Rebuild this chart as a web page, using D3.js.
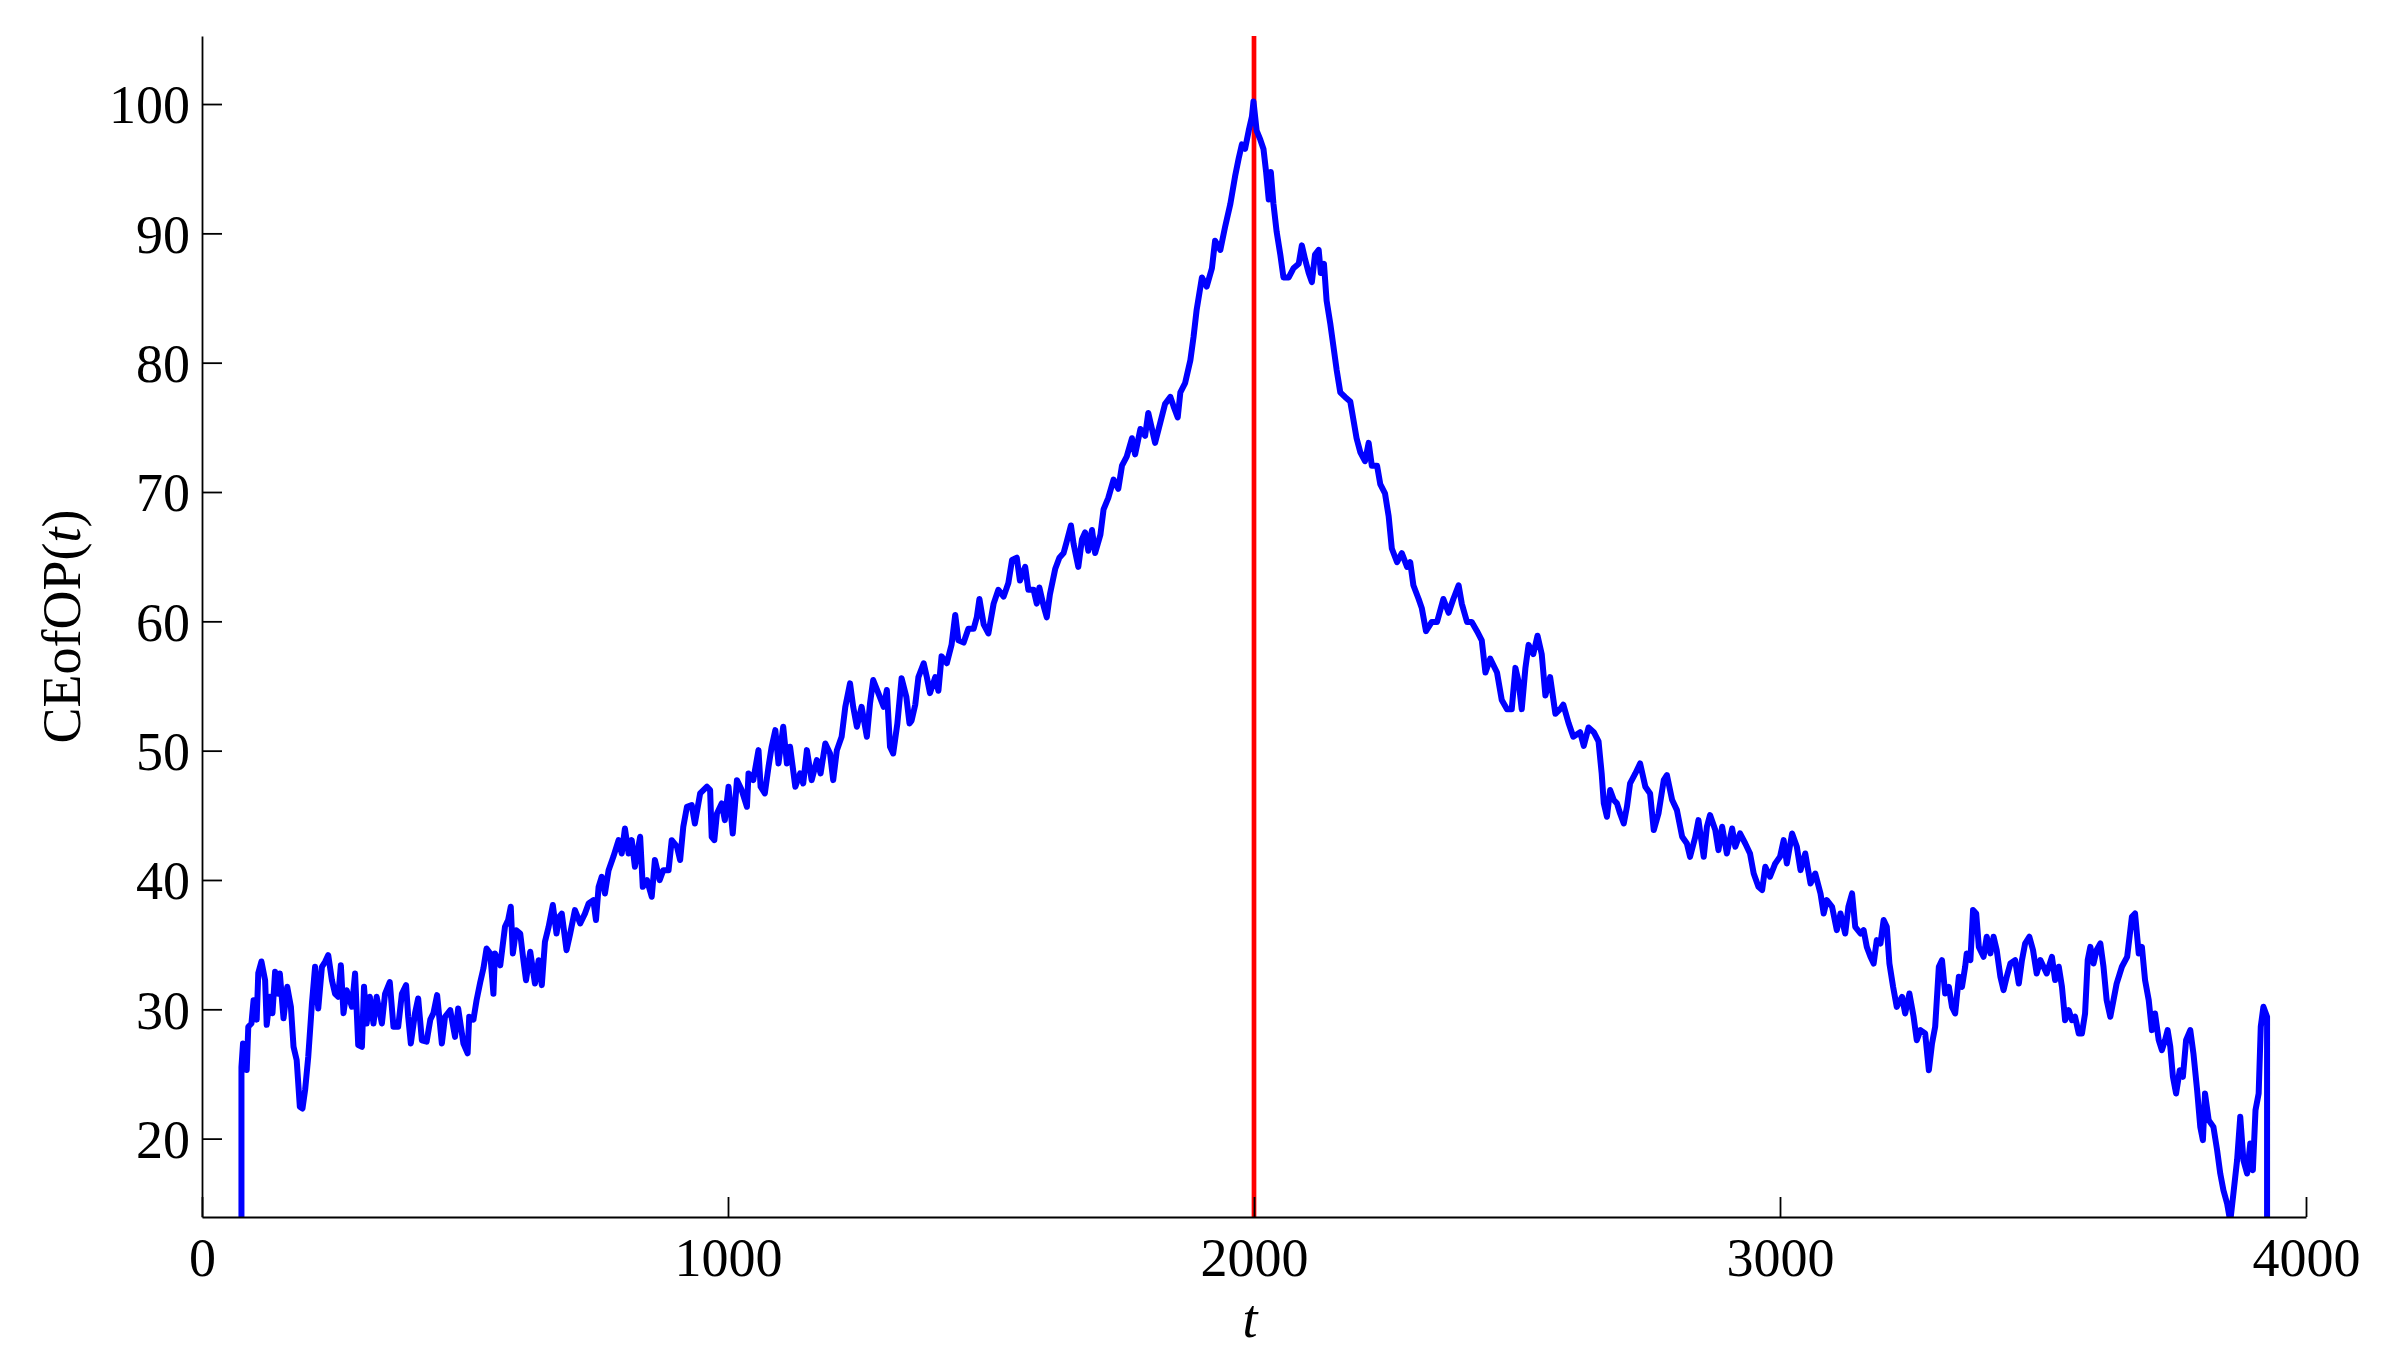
<!DOCTYPE html>
<html>
<head>
<meta charset="utf-8">
<script src="https://cdnjs.cloudflare.com/ajax/libs/d3/7.8.5/d3.min.js"></script>
<style>
	body { margin: 0; background: #fff; }
	svg text { font-family: "Liberation Serif", "Times New Roman", serif; }
</style>
</head>
<body>
<svg id="chart"></svg>
<script>
// ****** Data
var xTicks = [0, 1000, 2000, 3000, 4000];
var yTicks = [20, 30, 40, 50, 60, 70, 80, 90, 100];
var xDomain = [0, 4000];
var yDomain = [13.94, 105.26];
var changePoint = 2000;	// red marker

// CEofOP(t) as [t, value]
var ceofopSeries = [
	[75,0],[75,25.55],[78,27.36],[85,25.3],[88,28.65],[94,28.9],[98,30.7],[104,29.2],[107,32.8],[113,33.7],[120,32.25],[123,28.8],[129,30.97],[134,29.7],[139,32.9],[145,31.2],[148,32.77],[155,29.3],[162,31.74],[169,30.2],[174,27.1],[180,26.07],[186,22.46],[191,22.33],[196,23.75],[202,26.33],[209,30.45],[215,33.29],[221,30.06],[228,33.29],[234,33.67],[240,34.19],[247,32.25],[253,31.2],[259,30.97],[264,33.4],[269,29.7],[275,31.48],[285,30.2],[291,32.77],[297,27.23],[304,27.1],[308,31.74],[313,28.9],[319,30.97],[326,28.9],[332,30.97],[342,28.9],[348,31.2],[357,32.1],[364,28.65],[373,28.65],[380,31.2],[388,31.87],[392,29.42],[397,27.36],[405,29.7],[411,30.84],[418,27.6],[427,27.5],[434,29.2],[440,29.7],[447,31.1],[456,27.36],[462,29.42],[472,29.93],[481,27.87],[487,30.06],[497,27.36],[505,26.6],[508,29.42],[516,29.2],[522,30.7],[529,32.1],[535,33.16],[541,34.7],[548,34.32],[554,31.2],[557,34.32],[567,33.4],[576,36.38],[582,36.9],[587,37.93],[591,34.32],[597,36.12],[605,35.86],[611,33.8],[616,32.25],[624,34.45],[633,32.0],[640,33.8],[646,31.87],[652,35.22],[659,36.38],[667,38.06],[674,35.86],[679,37.15],
	[684,37.4],[693,34.57],[700,35.86],[709,37.67],[719,36.64],[728,37.4],[735,38.18],[744,38.44],[749,36.9],[754,39.47],[760,40.25],[766,38.96],[773,40.76],[782,41.79],[792,43.08],[798,42.05],[804,43.98],[811,42.05],[817,43.08],[823,41.02],[833,43.34],[838,39.47],[846,39.99],[855,38.7],[861,41.54],[870,39.99],[877,40.76],[887,40.76],[893,43.08],[903,42.57],[909,41.54],[915,44.11],[922,45.66],[931,45.79],[937,44.37],[947,46.69],[960,47.21],[966,46.95],[969,43.34],[974,43.08],[979,45.14],[988,45.92],[994,44.63],[1001,47.21],[1009,43.6],[1017,47.72],[1026,46.95],[1036,45.66],[1039,48.24],[1048,47.72],[1058,50.04],[1062,47.21],[1070,46.69],[1077,48.75],[1083,50.3],[1090,51.59],[1096,49.01],[1105,51.85],[1112,49.01],[1118,50.3],[1128,47.21],[1137,48.24],[1143,47.46],[1150,50.04],[1159,47.72],[1169,49.27],[1176,48.24],[1185,50.56],[1194,49.78],[1200,47.72],[1207,50.04],[1216,51.07],[1223,53.39],[1232,55.2],[1238,53.39],[1245,51.85],[1254,53.39],[1264,51.07],[1270,53.65],[1276,55.46],[1286,54.43],[1296,53.39],[1302,54.69],[1308,50.3],[1314,49.78],[1322,52.1],[1330,55.59],[1339,54.17],[1345,52.1],
	[1349,52.32],[1356,53.56],[1362,55.69],[1372,56.76],[1378,55.69],[1384,54.45],[1394,55.69],[1400,54.63],[1406,57.29],[1416,56.76],[1425,58.18],[1432,60.49],[1438,58.53],[1448,58.36],[1457,59.42],[1467,59.42],[1473,60.31],[1478,61.73],[1486,59.77],[1495,59.06],[1505,61.37],[1514,62.44],[1524,61.91],[1533,62.97],[1540,64.75],[1549,64.92],[1555,63.15],[1565,64.21],[1571,62.44],[1581,62.44],[1587,61.37],[1592,62.61],[1600,61.19],[1606,60.31],[1612,62.08],[1622,64.04],[1630,64.92],[1638,65.28],[1644,66.17],[1652,67.41],[1657,65.99],[1666,64.21],[1673,66.35],[1679,66.88],[1685,65.46],[1692,67.06],[1698,65.28],[1708,66.7],[1714,68.65],[1723,69.54],[1733,70.96],[1742,70.25],[1749,72.03],[1758,72.74],[1768,74.16],[1774,72.91],[1784,74.87],[1793,74.34],[1799,76.11],[1806,74.87],[1812,73.8],[1822,75.4],[1831,76.82],[1841,77.35],[1847,76.64],[1855,75.76],[1860,77.71],[1869,78.42],[1879,80.19],[1885,81.97],[1891,84.1],[1901,86.59],[1910,85.88],[1920,87.3],[1926,89.43],[1936,88.72],[1945,90.49],[1955,92.27],[1964,94.4],[1971,95.82],[1977,96.88],[1983,96.53],[1990,97.95],[1996,99.02],[1999,100.2],
	[2005,97.95],[2012,97.24],[2018,96.53],[2023,94.75],[2028,92.62],[2032,94.75],[2037,92.27],[2043,90.14],[2050,88.36],[2056,86.59],[2066,86.59],[2075,87.3],[2085,87.65],[2091,89.07],[2097,88.01],[2104,86.94],[2110,86.23],[2116,88.36],[2123,88.72],[2127,86.94],[2133,87.65],[2138,84.81],[2145,83.03],[2151,81.26],[2157,79.48],[2164,77.71],[2173,77.35],[2183,77.0],[2189,75.58],[2195,74.16],[2202,73.09],[2211,72.38],[2218,73.8],[2224,72.03],[2234,72.03],[2240,70.61],[2249,69.9],[2256,68.12],[2262,65.63],[2272,64.57],[2281,65.28],[2291,64.21],[2297,64.57],[2303,62.79],[2313,61.73],[2319,61.02],[2327,59.24],[2338,59.95],[2348,59.95],[2360,61.73],[2370,60.66],[2379,61.73],[2389,62.79],[2395,61.37],[2405,59.95],[2414,59.95],[2424,59.24],[2433,58.53],[2440,56.04],[2449,57.11],[2462,56.04],[2471,53.92],[2481,53.21],[2490,53.21],[2497,56.4],[2503,55.34],[2509,53.21],[2516,56.4],[2522,58.18],[2531,57.47],[2539,58.89],[2547,57.47],[2554,54.27],[2563,55.69],[2573,52.85],[2582,53.21],[2588,53.56],[2598,52.14],[2607,51.08],[2620,51.43],[2627,50.37],[2636,51.79],[2646,51.43],[2655,50.72],[2661,48.23],
	[2665,45.92],[2671,44.89],[2677,46.95],[2684,46.18],[2690,45.92],[2696,45.14],[2703,44.37],[2709,45.66],[2715,47.47],[2725,48.24],[2734,49.01],[2744,47.21],[2753,46.69],[2760,43.86],[2769,45.14],[2779,47.72],[2785,48.11],[2795,46.18],[2804,45.4],[2814,43.34],[2823,42.82],[2829,41.79],[2839,43.34],[2845,44.63],[2855,41.79],[2861,44.11],[2867,45.02],[2877,43.86],[2883,42.31],[2890,44.11],[2899,42.05],[2909,43.98],[2915,42.57],[2924,43.6],[2934,42.82],[2943,42.05],[2950,40.5],[2959,39.47],[2966,39.22],[2972,41.02],[2981,40.25],[2991,41.28],[3000,41.79],[3007,43.08],[3013,41.28],[3023,43.6],[3032,42.57],[3039,40.76],[3048,42.05],[3058,39.73],[3067,40.5],[3077,38.96],[3083,37.41],[3089,38.44],[3099,37.93],[3108,36.12],[3115,37.41],[3124,35.86],[3130,37.93],[3137,38.96],[3143,36.38],[3153,35.86],[3159,36.12],[3165,34.83],[3172,34.06],[3178,33.54],[3184,35.35],[3191,35.09],[3197,36.9],[3203,36.38],[3208,33.54],[3215,31.74],[3222,30.19],[3232,30.96],[3238,29.68],[3246,31.22],[3254,29.42],[3260,27.61],[3267,28.39],[3276,28.13],[3283,25.29],[3289,27.36],[3295,28.65],[3302,33.29],[3308,33.8],[3314,31.22],[3321,31.74],[3327,30.19],[3333,29.68],[3340,32.51],
	[3346,31.74],[3352,33.29],[3355,34.32],[3362,33.8],[3367,37.67],[3373,37.41],[3378,34.83],[3387,34.06],[3393,35.61],[3400,34.32],[3406,35.61],[3412,34.58],[3419,32.51],[3425,31.48],[3431,32.51],[3438,33.54],[3447,33.8],[3454,31.99],[3460,33.8],[3466,35.09],[3474,35.61],[3481,34.58],[3488,32.77],[3495,33.8],[3501,33.29],[3507,32.77],[3517,34.06],[3523,32.26],[3530,33.29],[3536,31.74],[3542,29.16],[3549,29.93],[3555,29.16],[3561,29.42],[3568,28.13],[3574,28.13],[3580,29.68],[3585,33.8],[3590,34.83],[3596,33.54],[3602,34.58],[3609,35.09],[3615,33.29],[3621,30.71],[3628,29.42],[3634,30.71],[3640,31.99],[3650,33.29],[3660,34.06],[3669,37.15],[3675,37.41],[3682,34.32],[3688,34.83],[3694,32.26],[3701,30.71],[3707,28.39],[3713,29.68],[3720,27.61],[3726,26.84],[3732,27.61],[3737,28.39],[3742,27.1],[3747,24.78],[3753,23.49],[3760,25.29],[3766,24.78],[3772,27.61],[3780,28.39],[3786,26.58],[3793,23.75],[3799,20.91],[3804,19.88],[3808,23.49],[3815,21.43],[3824,20.91],[3831,19.11],[3837,17.3],[3843,16.01],[3850,14.98],[3856,13.6],[3862,15.76],[3869,18.34],[3875,21.69],[3881,18.34],[3888,17.3],[3894,19.62],[3899,17.56],[3904,22.2],[3910,23.49],[3914,28.65],[3919,30.19],[3926,29.42],[3926,0]
];

// ****** Layout
var width = 2381, height = 1359;
var margin = {top: 36, right: 75, bottom: 142, left: 202};
var plotW = width - margin.left - margin.right;
var plotH = height - margin.top - margin.bottom;
var fontSize = 54;

var svg = d3.select('#chart')
	.attr('width', width)
	.attr('height', height);

var g = svg.append('g')
	.attr('transform', 'translate(' + margin.left + ',' + margin.top + ')');

var x = d3.scaleLinear().domain(xDomain).range([0, plotW]);
var y = d3.scaleLinear().domain(yDomain).range([plotH, 0]);

g.append('clipPath').attr('id', 'plot-clip')
	.append('rect').attr('x', 0).attr('y', 0).attr('width', plotW).attr('height', plotH);

// ****** Change point marker (under the series)
g.append('line')
	.attr('x1', x(changePoint)).attr('x2', x(changePoint))
	.attr('y1', y(yDomain[1])).attr('y2', y(yDomain[0]))
	.style('stroke', '#ff0000')
	.style('stroke-width', 4.7);

// ****** Series
var line = d3.line()
	.x(function(d) { return x(d[0]); })
	.y(function(d) { return y(d[1]); });

g.append('path')
	.datum(ceofopSeries)
	.attr('clip-path', 'url(#plot-clip)')
	.attr('d', line)
	.style('fill', 'none')
	.style('stroke', '#0000ff')
	.style('stroke-width', 6)
	.style('stroke-linejoin', 'round');

// ****** Axes (ticks point inward, no box)
var xAxis = d3.axisBottom(x).tickValues(xTicks).tickFormat(d3.format('d'))
	.tickSizeInner(-20).tickSizeOuter(0).tickPadding(21);
var yAxis = d3.axisLeft(y).tickValues(yTicks).tickFormat(d3.format('d'))
	.tickSizeInner(-20).tickSizeOuter(0).tickPadding(12);

var xAxisG = g.append('g').attr('transform', 'translate(0,' + plotH + ')').call(xAxis);
var yAxisG = g.append('g').call(yAxis);

[xAxisG, yAxisG].forEach(function(a) {
	a.selectAll('path, line').style('stroke', '#000').style('stroke-width', 1.8);
	a.selectAll('text').style('font-size', fontSize + 'px').style('fill', '#000')
		.style('font-family', '"Liberation Serif", "Times New Roman", serif');
});
yAxisG.selectAll('text').attr('dy', '0.35em');

// ****** Axis labels
svg.append('text')
	.attr('x', margin.left + plotW / 2 - 4)
	.attr('y', 1337)
	.attr('text-anchor', 'middle')
	.style('font-size', fontSize + 'px')
	.style('font-style', 'italic')
	.text('t');

var yLabel = svg.append('text')
	.attr('transform', 'translate(80,' + (margin.top + plotH / 2) + ') rotate(-90)')
	.attr('text-anchor', 'middle')
	.style('font-size', fontSize + 'px');
yLabel.append('tspan').text('CEofOP(');
yLabel.append('tspan').style('font-style', 'italic').text('t');
yLabel.append('tspan').text(')');
</script>
</body>
</html>
